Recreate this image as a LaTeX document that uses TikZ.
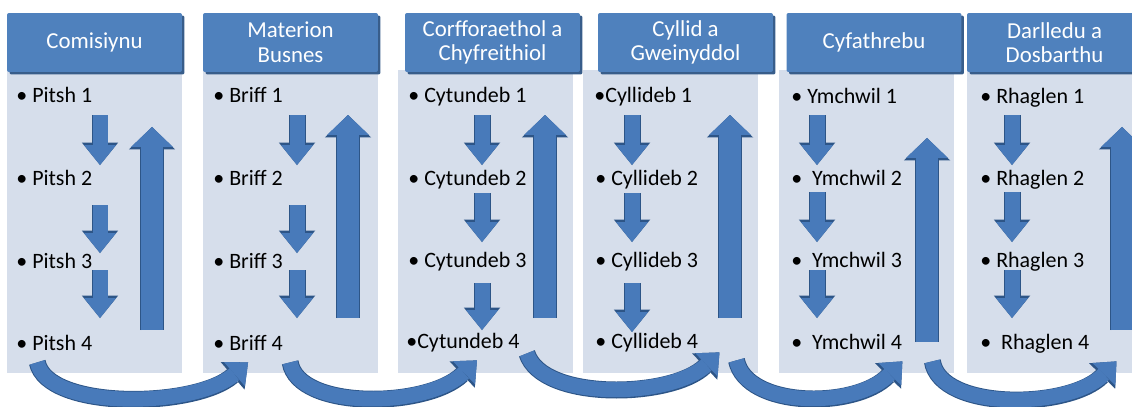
\documentclass[tikz,border=0pt]{standalone}
\usepackage{fontspec}
\setmainfont{Carlito}
\usepackage{xcolor}
\usepackage{tikz}
\usetikzlibrary{arrows.meta,shadows}

\definecolor{hdrblue}{RGB}{79,129,189}
\definecolor{hdrdark}{RGB}{56,93,138}
\definecolor{panelgrey}{RGB}{214,222,235}
\definecolor{arrowblue}{RGB}{72,122,186}
\definecolor{arrowdark}{RGB}{45,85,135}

\begin{document}
\begin{tikzpicture}[
    x=0.02cm, y=-0.02cm,
    header/.style={fill=hdrblue, text=white, rounded corners=0.4mm, minimum width=3.5cm, minimum height=1.18cm, align=center, inner sep=2pt, font=\fontsize{13}{14}\selectfont, drop shadow={shadow xshift=0.5mm, shadow yshift=-0.5mm, fill=hdrdark, opacity=1}},
    panel/.style={fill=panelgrey, minimum width=3.5cm, minimum height=6.06cm, inner sep=0pt},
    item/.style={anchor=base west, inner sep=0pt, font=\fontsize{12.5}{14}\selectfont, text height=2.8mm, text depth=2.4mm},
    down/.style={draw=arrowblue, line width=3mm, -{Triangle[length=4mm,width=6.4mm,line width=0pt]}, preaction={draw=arrowdark, line width=3.4mm, -{Triangle[length=4.5mm,width=7.3mm,line width=0pt]}}},
    up/.style={draw=arrowblue, line width=4.4mm, -{Triangle[length=4mm,width=8.4mm,line width=0pt]}, preaction={draw=arrowdark, line width=4.8mm, -{Triangle[length=4.5mm,width=9.3mm,line width=0pt]}}},
    curved/.style={draw=arrowblue, line width=3mm, -{Triangle[length=3.6mm,width=6.4mm,line width=0pt]}, preaction={draw=arrowdark, line width=3.4mm, -{Triangle[length=4.1mm,width=7.3mm,line width=0pt]}}}
]
\useasboundingbox (0,0) rectangle (1132,406);

% --- panels and headers ---
\node[panel] (comP) at (94.5,221.5) {};
\node[panel] (matP) at (290.5,221.5) {};
\node[panel] (corP) at (485.5,221.5) {};
\node[panel] (cylP) at (670.5,221.5) {};
\node[panel] (cyfP) at (866.5,221.5) {};
\node[panel] (darP) at (1054.5,221.5) {};

\node[header] (com) at (94.5,42.5) {Comisiynu};
\node[header] (mat) at (290.5,42.5) {Materion\\Busnes};
\node[header] (cor) at (492.5,42.5) {Corfforaethol a\\Chyfreithiol};
\node[header] (cyl) at (685.5,42.5) {Cyllid a\\Gweinyddol};
\node[header] (cyf) at (874,42.5) {Cyfathrebu};
\node[header] (dar) at (1054.5,42.5) {Darlledu a\\Dosbarthu};

% --- Comisiynu ---
\node[item] (p1) at (16,102) {• Pitsh 1};
\node[item] (p2) at (16,185) {• Pitsh 2};
\node[item] (p3) at (16,268) {• Pitsh 3};
\node[item] (p4) at (16,350) {• Pitsh 4};
\draw[down, shorten <=2.6mm, shorten >=4mm] (p1.base -| 100,0) -- (p2.base -| 100,0);
\draw[down, shorten <=4mm, shorten >=3mm] (p2.base -| 100,0) -- (p3.base -| 100,0);
\draw[down, shorten <=0.4mm, shorten >=6.4mm] (p3.base -| 100,0) -- (p4.base -| 100,0);
\draw[up, shorten <=4mm, shorten >=5mm] (p4.base -| 152,0) -- (p1.base -| 152,0);

% --- Materion Busnes ---
\node[item] (b1) at (213,102) {• Briff 1};
\node[item] (b2) at (213,185) {• Briff 2};
\node[item] (b3) at (213,268) {• Briff 3};
\node[item] (b4) at (213,350) {• Briff 4};
\draw[down, shorten <=2.6mm, shorten >=4mm] (b1.base -| 297,0) -- (b2.base -| 297,0);
\draw[down, shorten <=4mm, shorten >=3mm] (b2.base -| 297,0) -- (b3.base -| 297,0);
\draw[down, shorten <=0.4mm, shorten >=6.4mm] (b3.base -| 297,0) -- (b4.base -| 297,0);
\draw[up, shorten <=6.4mm, shorten >=2.6mm] (b4.base -| 348,0) -- (b1.base -| 348,0);

% --- Corfforaethol a Chyfreithiol ---
\node[item] (c1) at (408,102) {• Cytundeb 1};
\node[item] (c2) at (408,185) {• Cytundeb 2};
\node[item] (c3) at (408,267) {• Cytundeb 3};
\node[item] (c4) at (406,348) {•Cytundeb 4};
\draw[down, shorten <=2.6mm, shorten >=4mm] (c1.base -| 482,0) -- (c2.base -| 482,0);
\draw[down, shorten <=1.6mm, shorten >=5mm] (c2.base -| 482,0) -- (c3.base -| 482,0);
\draw[down, shorten <=3.2mm, shorten >=3.6mm] (c3.base -| 482,0) -- (c4.base -| 482,0);
\draw[up, shorten <=6mm, shorten >=2.6mm] (c4.base -| 545,0) -- (c1.base -| 545,0);

% --- Cyllid a Gweinyddol ---
\node[item] (cy1) at (594,102) {•Cyllideb 1};
\node[item] (cy2) at (595,185) {• Cyllideb 2};
\node[item] (cy3) at (595,267) {• Cyllideb 3};
\node[item] (cy4) at (595,348) {• Cyllideb 4};
\draw[down, shorten <=2.6mm, shorten >=4mm] (cy1.base -| 632,0) -- (cy2.base -| 632,0);
\draw[down, shorten <=1.6mm, shorten >=5mm] (cy2.base -| 632,0) -- (cy3.base -| 632,0);
\draw[down, shorten <=3.2mm, shorten >=3.2mm] (cy3.base -| 632,0) -- (cy4.base -| 632,0);
\draw[up, shorten <=6mm, shorten >=2.6mm] (cy4.base -| 730,0) -- (cy1.base -| 730,0);

% --- Cyfathrebu ---
\node[item] (y1) at (791,103) {• Ymchwil 1};
\node[item] (y2) at (791,185) {•~~Ymchwil 2};
\node[item] (y3) at (791,267) {•~~Ymchwil 3};
\node[item] (y4) at (791,349) {•~~Ymchwil 4};
\draw[down, shorten <=2.4mm, shorten >=4mm] (y1.base -| 817,0) -- (y2.base -| 817,0);
\draw[down, shorten <=1.4mm, shorten >=5mm] (y2.base -| 817,0) -- (y3.base -| 817,0);
\draw[down, shorten <=0.6mm, shorten >=6.2mm] (y3.base -| 817,0) -- (y4.base -| 817,0);
\draw[up, shorten <=1.4mm, shorten >=7mm] (y4.base -| 927,0) -- (y1.base -| 927,0);

% --- Darlledu a Dosbarthu ---
\node[item] (r1) at (980,103) {• Rhaglen 1};
\node[item] (r2) at (980,185) {• Rhaglen 2};
\node[item] (r3) at (980,267) {• Rhaglen 3};
\node[item] (r4) at (980,349) {•~~Rhaglen 4};
\draw[down, shorten <=2.4mm, shorten >=4mm] (r1.base -| 1012,0) -- (r2.base -| 1012,0);
\draw[down, shorten <=1.4mm, shorten >=5mm] (r2.base -| 1012,0) -- (r3.base -| 1012,0);
\draw[down, shorten <=0.6mm, shorten >=6.2mm] (r3.base -| 1012,0) -- (r4.base -| 1012,0);
\draw[up, shorten <=3.8mm, shorten >=4.8mm] (r4.base -| 1122,0) -- (r1.base -| 1122,0);

% --- hand-over arrows between columns ---
\draw[curved] ([xshift=-3.4mm]p4.south) .. controls +(10,48) and +(-53,46) .. (b4.south);
\draw[curved] ([xshift=1.4mm]b4.south east) .. controls +(8,48) and +(-50,48) .. ([xshift=2.8mm]c4.south);
\draw[curved] ([xshift=1.4mm,yshift=1.4mm]c4.south east) .. controls +(15,48) and +(-48,46) .. ([xshift=4.2mm,yshift=1.6mm]cy4.south east);
\draw[curved] ([xshift=7.6mm]cy4.south east) .. controls +(10,48) and +(-47,48) .. (y4.south east);
\draw[curved] ([xshift=6mm]y4.south east) .. controls +(8,50) and +(-47,48) .. ([xshift=5.4mm]r4.south east);

\end{tikzpicture}
\end{document}
